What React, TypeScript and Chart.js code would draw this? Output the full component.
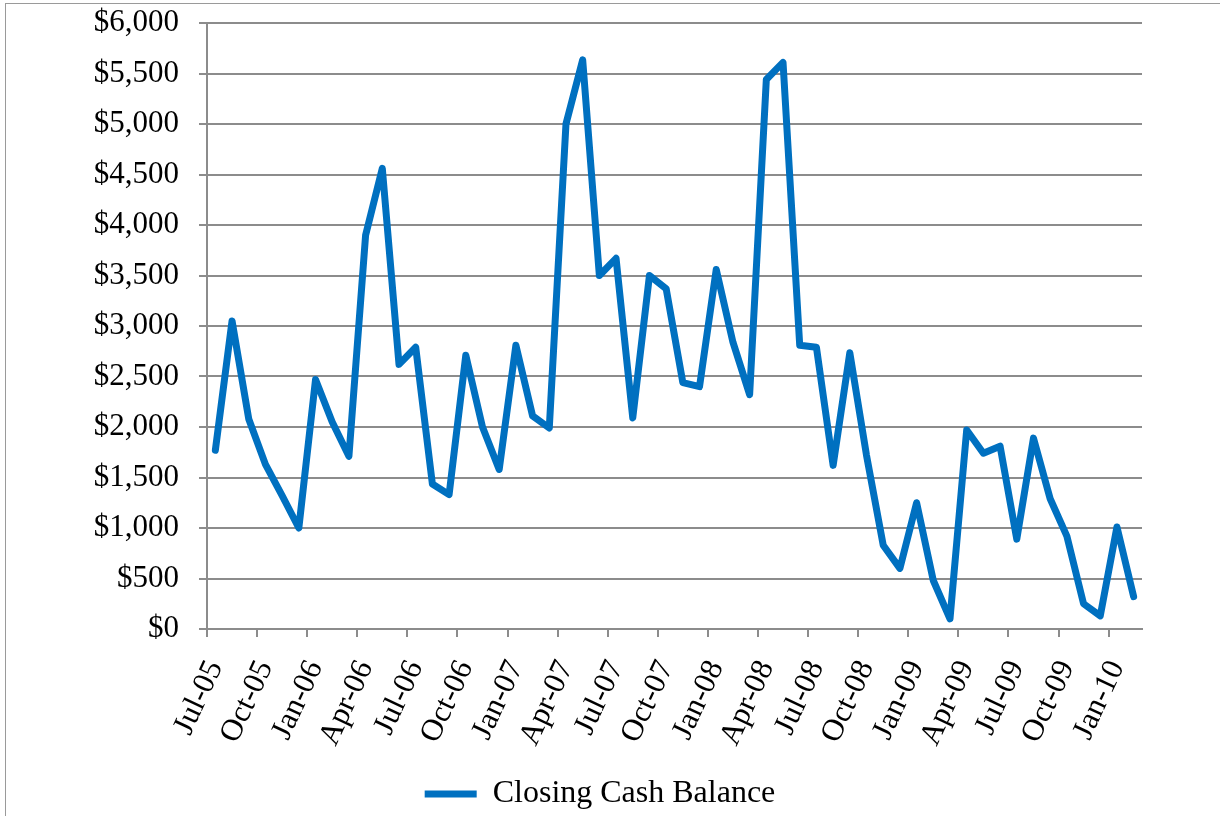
import React, { useEffect, useRef } from 'react';
import { Chart, registerables } from 'chart.js';

Chart.register(...registerables);

const months = [
  'Jul-05', 'Aug-05', 'Sep-05', 'Oct-05', 'Nov-05', 'Dec-05',
  'Jan-06', 'Feb-06', 'Mar-06', 'Apr-06', 'May-06', 'Jun-06',
  'Jul-06', 'Aug-06', 'Sep-06', 'Oct-06', 'Nov-06', 'Dec-06',
  'Jan-07', 'Feb-07', 'Mar-07', 'Apr-07', 'May-07', 'Jun-07',
  'Jul-07', 'Aug-07', 'Sep-07', 'Oct-07', 'Nov-07', 'Dec-07',
  'Jan-08', 'Feb-08', 'Mar-08', 'Apr-08', 'May-08', 'Jun-08',
  'Jul-08', 'Aug-08', 'Sep-08', 'Oct-08', 'Nov-08', 'Dec-08',
  'Jan-09', 'Feb-09', 'Mar-09', 'Apr-09', 'May-09', 'Jun-09',
  'Jul-09', 'Aug-09', 'Sep-09', 'Oct-09', 'Nov-09', 'Dec-09',
  'Jan-10', 'Feb-10',
];

const closingCashBalance = [
  1770, 3050, 2080, 1630, 1320, 1000,
  2470, 2050, 1710, 3900, 4560, 2620,
  2790, 1435, 1330, 2710, 2000, 1580,
  2810, 2110, 1990, 5000, 5635, 3500,
  3670, 2090, 3500, 3370, 2440, 2400,
  3560, 2840, 2320, 5440, 5610, 2810,
  2790, 1620, 2735, 1720, 830, 600,
  1250, 480, 100, 1970, 1740, 1810,
  890, 1890, 1290, 920, 250, 130,
  1010, 320,
];

const seriesLabel = 'Closing Cash Balance';
const yMin = 0;
const yMax = 6000;
const yStep = 500;

const GRID = '#8c8c8c';
const FONT = 'Liberation Serif';

export default function App() {
  const ref = useRef<HTMLCanvasElement>(null);

  useEffect(() => {
    if (!ref.current) return;
    const chart = new Chart(ref.current, {
      type: 'line',
      data: {
        labels: months,
        datasets: [
          {
            label: seriesLabel,
            data: closingCashBalance,
            borderColor: '#0070C0',
            backgroundColor: '#0070C0',
            borderWidth: 7,
            pointRadius: 0,
            pointHoverRadius: 0,
            tension: 0,
            borderJoinStyle: 'round',
            borderCapStyle: 'round',
            fill: false,
          },
        ],
      },
      options: {
        responsive: false,
        animation: false,
        devicePixelRatio: 1,
        layout: { padding: { left: 58, right: 78, top: 23, bottom: 0 } },
        plugins: {
          tooltip: { enabled: false },
          legend: {
            display: true,
            position: 'bottom',
            labels: {
              color: '#000',
              font: { family: FONT, size: 32 },
              usePointStyle: true,
              pointStyle: 'line',
              boxWidth: 52,
              pointStyleWidth: 52,
              padding: 8,
            },
          },
        },
        scales: {
          x: {
            type: 'category',
            offset: true,
            grid: {
              offset: true,
              drawOnChartArea: false,
              drawTicks: true,
              tickLength: 8,
              lineWidth: 2,
              color: (c: any) => (c.index % 3 === 0 ? GRID : 'rgba(0,0,0,0)'),
            },
            border: { display: true, color: GRID, width: 2 },
            ticks: {
              autoSkip: false,
              maxRotation: 65,
              minRotation: 65,
              padding: 18,
              color: '#000',
              font: { family: FONT, size: 31 },
              callback: (_v: any, i: number) => (i % 3 === 0 ? months[i] : ''),
            },
            afterFit: (s: any) => {
              s.height = 141;
            },
          },
          y: {
            min: yMin,
            max: yMax,
            grid: { color: GRID, lineWidth: 2, tickLength: 8, drawTicks: true },
            border: { display: true, color: GRID, width: 2 },
            ticks: {
              stepSize: yStep,
              padding: 20,
              color: '#000',
              font: { family: FONT, size: 31 },
              callback: (v: any) => '$' + Number(v).toLocaleString('en-US'),
            },
            afterFit: (s: any) => {
              s.width = 149;
              s.paddingTop = 0;
              s.paddingBottom = 0;
            },
          },
        },
      },
    });
    return () => chart.destroy();
  }, []);

  return (
    <div
      style={{
        position: 'fixed',
        left: 0,
        top: 0,
        width: 1220,
        height: 816,
        overflow: 'hidden',
        background: '#fff',
      }}
    >
      <div
        style={{
          position: 'absolute',
          left: 5,
          top: 3,
          width: 1400,
          height: 1000,
          borderLeft: '1px solid #9a9a9a',
          borderTop: '1px solid #9a9a9a',
        }}
      />
      <canvas
        ref={ref}
        width={1220}
        height={820}
        style={{ position: 'absolute', left: 0, top: 0, width: 1220, height: 820 }}
      />
    </div>
  );
}
